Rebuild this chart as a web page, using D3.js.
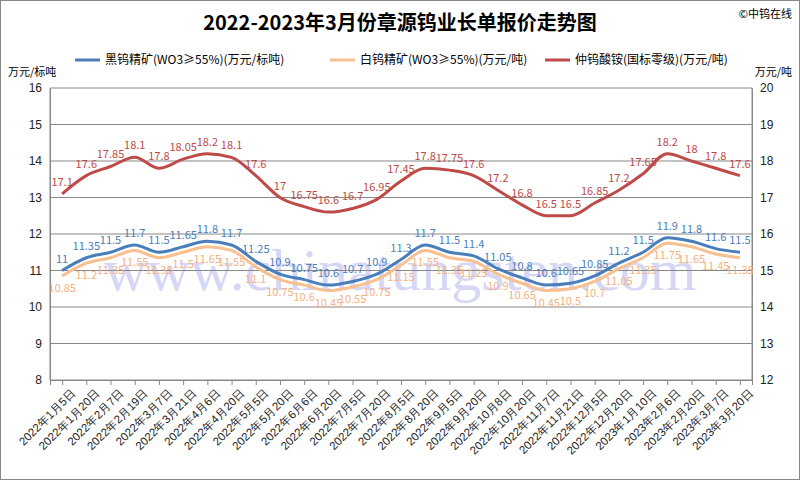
<!DOCTYPE html><html><head><meta charset="utf-8"><script src="https://cdn.jsdelivr.net/npm/d3@7"></script>
<style>body{margin:0;background:#fff;font-family:"Microsoft YaHei","Noto Sans CJK SC",sans-serif}</style></head><body><svg id="c" width="800" height="480"></svg><script>
const categories=["2022年1月5日","2022年1月20日","2022年2月7日","2022年2月19日","2022年3月7日","2022年3月21日","2022年4月6日","2022年4月20日","2022年5月5日","2022年5月20日","2022年6月6日","2022年6月20日","2022年7月5日","2022年7月20日","2022年8月5日","2022年8月20日","2022年9月5日","2022年9月20日","2022年10月8日","2022年10月20日","2022年11月7日","2022年11月21日","2022年12月5日","2022年12月20日","2023年1月10日","2023年2月6日","2023年2月20日","2023年3月7日","2023年3月20日"];
const blackW=[11,11.35,11.5,11.7,11.5,11.65,11.8,11.7,11.25,10.9,10.75,10.6,10.7,10.9,11.3,11.7,11.5,11.4,11.05,10.8,10.6,10.65,10.85,11.2,11.5,11.9,11.8,11.6,11.5];
const whiteW=[10.85,11.2,11.35,11.55,11.35,11.5,11.65,11.55,11.1,10.75,10.6,10.45,10.55,10.75,11.15,11.55,11.35,11.25,10.9,10.65,10.45,10.5,10.7,11.05,11.35,11.75,11.65,11.45,11.35];
const apt=[17.1,17.6,17.85,18.1,17.8,18.05,18.2,18.1,17.6,17,16.75,16.6,16.7,16.95,17.45,17.8,17.75,17.6,17.2,16.8,16.5,16.5,16.85,17.2,17.65,18.2,18,17.8,17.6];
const leftTicks=[8,9,10,11,12,13,14,15,16], rightTicks=[12,13,14,15,16,17,18,19,20];
const names=["黑钨精矿(WO3≥55%)(万元/标吨)","白钨精矿(WO3≥55%)(万元/吨)","仲钨酸铵(国标零级)(万元/吨)"];
const colors=["#4a7ebb","#f9c08f","#be4b48"];
const svg=d3.select("#c");
svg.append("rect").attr("x",0.5).attr("y",0.5).attr("width",799).attr("height",479).attr("fill","#fff").attr("stroke","#888");
const L=50,R=752,T=88,B=380;
const x=d3.scalePoint().domain(categories).range([L,R]).padding(0.5);
const yL=d3.scaleLinear().domain([8,16]).range([B,T]);
const yR=d3.scaleLinear().domain([12,20]).range([B,T]);
svg.append("text").attr("x",400).attr("y",290).attr("text-anchor","middle").attr("font-size",60).attr("font-family","Liberation Serif,serif").attr("fill","#7a7ae8").attr("opacity",0.3).text("www.chinatungsten.com");
svg.append("g").selectAll("line").data(leftTicks).join("line").attr("x1",L).attr("x2",R).attr("y1",d=>yL(d)).attr("y2",d=>yL(d)).attr("stroke","#888");
const gl=svg.append("g").attr("transform",`translate(${L},0)`).call(d3.axisLeft(yL).tickValues(leftTicks).tickSize(0).tickPadding(8));
const gr=svg.append("g").attr("transform",`translate(${R},0)`).call(d3.axisRight(yR).tickValues(rightTicks).tickSize(0).tickPadding(8));
const gx=svg.append("g").attr("transform",`translate(0,${B})`).call(d3.axisBottom(x).tickSize(5));
[gl,gr,gx].forEach(g=>{g.selectAll("path").attr("stroke","#888");g.selectAll("text").attr("font-size",12).attr("fill","#222");});
gx.selectAll("text").attr("font-size",11.5);
gx.selectAll("line").attr("stroke","#888");
gx.selectAll("text").attr("text-anchor","end").attr("transform","translate(4,4) rotate(-45)").attr("dy","0.5em");
svg.append("line").attr("x1",L).attr("x2",L).attr("y1",T).attr("y2",B).attr("stroke","#888");
svg.append("line").attr("x1",R).attr("x2",R).attr("y1",T).attr("y2",B).attr("stroke","#888");
const series=[[blackW,yL,-8],[whiteW,yL,16],[apt,yR,-8]];
series.forEach(([vals,ys,dy],i)=>{
 svg.append("path").datum(vals).attr("fill","none").attr("stroke",colors[i]).attr("stroke-width",3)
  .attr("d",d3.line().x((d,j)=>x(categories[j])).y(d=>ys(d)).curve(d3.curveMonotoneX));
 svg.append("g").selectAll("text").data(vals).join("text").attr("x",(d,j)=>x(categories[j])).attr("y",d=>ys(d)+dy)
  .attr("text-anchor","middle").attr("font-size",11).attr("fill",i==1?"#f4b183":colors[i]).text(d=>d);
});
svg.append("text").attr("x",400).attr("y",30).attr("text-anchor","middle").attr("font-size",20).attr("font-weight","bold").text("2022-2023年3月份章源钨业长单报价走势图");
svg.append("text").attr("x",792).attr("y",18).attr("text-anchor","end").attr("font-size",11).text("©中钨在线");
svg.append("text").attr("x",8).attr("y",76).attr("font-size",11).text("万元/标吨");
svg.append("text").attr("x",792).attr("y",76).attr("text-anchor","end").attr("font-size",11).text("万元/吨");
const lx=[75,330,545];
names.forEach((n,i)=>{
 svg.append("line").attr("x1",lx[i]).attr("x2",lx[i]+25).attr("y1",60).attr("y2",60).attr("stroke",colors[i]).attr("stroke-width",3);
 svg.append("text").attr("x",lx[i]+30).attr("y",64).attr("font-size",12).text(n);
});
</script></body></html>
